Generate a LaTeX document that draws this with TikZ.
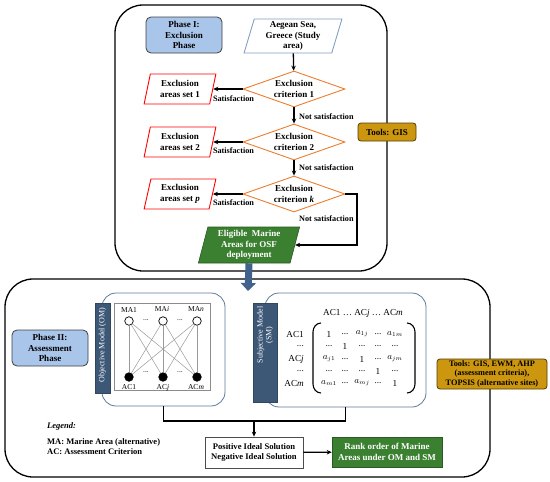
\documentclass[tikz,border=0pt]{standalone}
\usepackage{fontspec}
\setmainfont{Liberation Serif}
\usetikzlibrary{shapes.geometric,arrows.meta}
\definecolor{phaseblue}{RGB}{169,197,234}
\definecolor{aegeanblue}{RGB}{130,160,195}
\definecolor{critorange}{RGB}{237,125,49}
\definecolor{setred}{RGB}{255,0,0}
\definecolor{okgreen}{RGB}{58,128,48}
\definecolor{okgreenborder}{RGB}{40,90,35}
\definecolor{toolgold}{RGB}{205,150,15}
\definecolor{toolborder}{RGB}{80,60,10}
\definecolor{barblue}{RGB}{61,88,119}
\definecolor{bigarrow}{RGB}{65,98,140}
\definecolor{modelframe}{RGB}{95,122,153}
\newcommand{\mdots}{...}
\begin{document}
\begin{tikzpicture}[x=1pt,y=-1pt,
  base/.style={font=\fontsize{9}{10.4}\selectfont\bfseries, align=center, inner sep=0pt},
  phasebox/.style={base, draw=black!75, fill=phaseblue, rounded corners=5pt, line width=0.8pt, minimum width=76pt, minimum height=36pt},
  para/.style={base, trapezium, trapezium left angle=76, trapezium right angle=104, trapezium stretches=true, line width=0.9pt},
  crit/.style={base, diamond, aspect=2.8, draw=critorange, line width=0.9pt, minimum width=102pt, minimum height=36pt},
  arr/.style={-{Stealth[length=5pt,width=4.5pt]}, line width=1.3pt},
  lab/.style={font=\fontsize{8.2}{9}\selectfont\bfseries, inner sep=0pt},
  tools/.style={base, draw=toolborder, fill=toolgold, rounded corners=3pt, line width=0.8pt},
  bigframe/.style={draw, line width=1.3pt, rounded corners=28pt},
  mframe/.style={draw=modelframe, line width=0.8pt, rounded corners=14pt, fill=white},
  mbar/.style={fill=barblue, draw=barblue!80!black, line width=0.4pt, text=white, inner sep=0pt},
  gbox/.style={base, fill=okgreen, draw=okgreenborder, line width=0.6pt, text=white},
  small/.style={font=\fontsize{7.5}{8}\selectfont, inner sep=0pt},
  mat/.style={font=\fontsize{9.2}{10}\selectfont, inner sep=0pt},
  legendtxt/.style={font=\fontsize{8.5}{10}\selectfont\bfseries, inner sep=0pt, anchor=west},
  opencirc/.style={circle, draw, fill=white, line width=0.7pt, minimum size=8.5pt, inner sep=0pt},
  fullcirc/.style={circle, draw, fill=black, line width=0.7pt, minimum size=8.5pt, inner sep=0pt}
]
\useasboundingbox (0,0) rectangle (550,482);

% ---------- Phase I ----------
\node[bigframe, minimum width=272pt, minimum height=266pt] (f1) at (251,138) {};
\node[phasebox] (ph1) at (184,35) {Phase I:\\Exclusion\\Phase};
\node[para, draw=aegeanblue, minimum width=98pt, minimum height=34pt] (aeg) at (293,36) {Aegean Sea,\\Greece (Study\\area)};

\node[crit] (d1) at (294,89) {Exclusion\\criterion 1};
\node[crit] (d2) at (294,142) {Exclusion\\criterion 2};
\node[crit] (dk) at (294,194) {Exclusion\\criterion \textit{k}};

\node[para, draw=setred, minimum width=72pt, minimum height=30pt] (s1) at (180,89) {Exclusion\\areas set 1};
\node[para, draw=setred, minimum width=72pt, minimum height=30pt] (s2) at (180,142) {Exclusion\\areas set 2};
\node[para, draw=setred, minimum width=72pt, minimum height=30pt] (sp) at (180,194) {Exclusion\\areas set \textit{p}};

\node[para, fill=okgreen, draw=okgreenborder, text=white, line width=0.6pt, minimum width=102pt, minimum height=36pt] (elig) at (249,245) {Eligible\ \ Marine\\Areas for OSF\\deployment};

\node[tools, minimum width=58pt, minimum height=18pt] (tool1) at (387,132) {Tools: GIS};

\draw[arr] (aeg) -- (d1);
\draw[arr] (d1) -- (d2);
\draw[arr] (d2) -- (dk);
\draw[arr] (d1) -- (s1);
\draw[arr] (d2) -- (s2);
\draw[arr] (dk) -- (sp);
\coordinate (kturn) at (357,194);
\draw[arr] (dk.east) -- (kturn) |- (elig);

\node[lab] (sat1) at (233.5,99) {Satisfaction};
\node[lab] (sat2) at (233.5,151) {Satisfaction};
\node[lab] (sat3) at (233.5,203) {Satisfaction};
\node[lab, anchor=west] (ns1) at (299,117) {Not satisfaction};
\node[lab, anchor=west] (ns2) at (299,168) {Not satisfaction};
\node[lab, anchor=west] (ns3) at (299,219) {Not satisfaction};

% ---------- Phase II ----------
\node[bigframe, minimum width=485pt, minimum height=198pt] (f2) at (247.5,378) {};
\coordinate (bluetip) at (248,291);
\draw[line width=7pt, bigarrow, -{Triangle[width=15pt,length=8pt]}] (elig.south) -- (bluetip);

\node[phasebox] (ph2) at (50,348) {Phase II:\\Assessment\\Phase};
\node[tools, minimum width=110pt, minimum height=30pt, font=\fontsize{8.3}{9.6}\selectfont\bfseries] (tool2) at (492,374) {Tools: GIS, EWM, AHP\\(assessment criteria),\\TOPSIS (alternative sites)};

% Objective model
\node[mframe, minimum width=123pt, minimum height=113pt] (om) at (163.5,349.5) {};
\node[draw=black!45, line width=0.6pt, minimum width=96pt, minimum height=87pt, inner sep=0pt] (ombox) at (162,346.5) {};
\node[mbar, minimum width=15pt, minimum height=90pt] (ombar) at (102.5,348) {};
\node[small, text=white, rotate=90, font=\fontsize{8}{9}\selectfont] (omtxt) at (102.5,345) {Objective Model (OM)};

\node[opencirc] (ma1) at (129,321) {};
\node[opencirc] (mai) at (163,321) {};
\node[opencirc] (man) at (197,321) {};
\node[fullcirc] (ac1) at (129,377) {};
\node[fullcirc] (acj) at (163,377) {};
\node[fullcirc] (acm) at (197,377) {};
\foreach \a in {ma1,mai,man}{
  \foreach \b in {ac1,acj,acm}{
    \draw[black!40, line width=0.5pt] (\a) -- (\b);
  }
}
\node[small] (lma1) at (129,310) {MA1};
\node[small] (lmai) at (162,309) {MA\textit{i}};
\node[small] (lman) at (196,309) {MA\textit{n}};
\node[small] (lac1) at (129,387.5) {AC1};
\node[small] (lacj) at (163,387.5) {AC\textit{j}};
\node[small] (lacm) at (196,387.5) {AC\textit{m}};
\node[small] (dm1) at (146,320) {\mdots};
\node[small] (dm2) at (180,320) {\mdots};
\node[small] (da1) at (146,372) {\mdots};
\node[small] (da2) at (180,372) {\mdots};

% Subjective model
\node[mframe, minimum width=161pt, minimum height=114pt] (sm) at (345.5,350) {};
\node[mbar, minimum width=24pt, minimum height=99pt] (smbar) at (265,352.5) {};
\node[text=white, rotate=90, align=center, inner sep=0pt, font=\fontsize{8}{8.8}\selectfont] (smtxt) at (265,335) {Subjective Model\\(SM)};

\node[mat] (hdr) at (363,313) {AC1 \ldots\ AC\textit{j} \ldots\ AC\textit{m}};
\node[mat, anchor=east] (r1) at (304,334) {AC1};
\node[mat, anchor=east] (r2) at (304,346.5) {\mdots};
\node[mat, anchor=east] (r3) at (304,359) {AC\textit{j}};
\node[mat, anchor=east] (r4) at (304,371.5) {\mdots};
\node[mat, anchor=east] (r5) at (304,383) {AC\textit{m}};

\foreach \x/\y/\t in {
  329/334/1, 345/334/\mdots, 362/334/{$a_{1j}$}, 378/334/\mdots, 395/334/{$a_{1m}$},
  329/346.5/\mdots, 345/346.5/1, 362/346.5/\mdots, 378/346.5/\mdots, 395/346.5/\mdots,
  329/359/{$a_{j1}$}, 345/359/\mdots, 362/359/1, 378/359/\mdots, 395/359/{$a_{jm}$},
  329/371.5/\mdots, 345/371.5/\mdots, 362/371.5/\mdots, 378/371.5/1, 395/371.5/\mdots,
  329/383/{$a_{m1}$}, 345/383/\mdots, 362/383/{$a_{mj}$}, 378/383/\mdots, 395/383/1}{
  \node[mat] at (\x,\y) {\t};
}
\draw[line width=1.1pt] (321,323) to[out=180,in=90] (313,332) -- (313,384) to[out=-90,in=180] (321,393);
\draw[line width=1.1pt] (407,323) to[out=0,in=90] (415,332) -- (415,384) to[out=-90,in=0] (407,393);

% Results
\node[base, draw=black!70, fill=white, line width=0.8pt, minimum width=98pt, minimum height=31pt, font=\fontsize{8.6}{10.3}\selectfont\bfseries] (pis) at (254,452.5) {Positive Ideal Solution\\Negative Ideal Solution};
\node[gbox, minimum width=110pt, minimum height=30pt] (rank) at (387,452) {Rank order of Marine\\Areas under OM and SM};
\coordinate (join) at (254,421);
\draw[line width=1.3pt] (om.south) |- (join) -| (sm.south);
\draw[arr] (join) -- (pis);
\draw[arr] (pis) -- (rank);

% Legend
\node[legendtxt] (leg) at (47,426) {\textit{Legend:}};
\node[legendtxt] (leg1) at (47,442) {MA: Marine Area (alternative)};
\node[legendtxt] (leg2) at (47,452) {AC: Assessment Criterion};
\end{tikzpicture}
\end{document}
